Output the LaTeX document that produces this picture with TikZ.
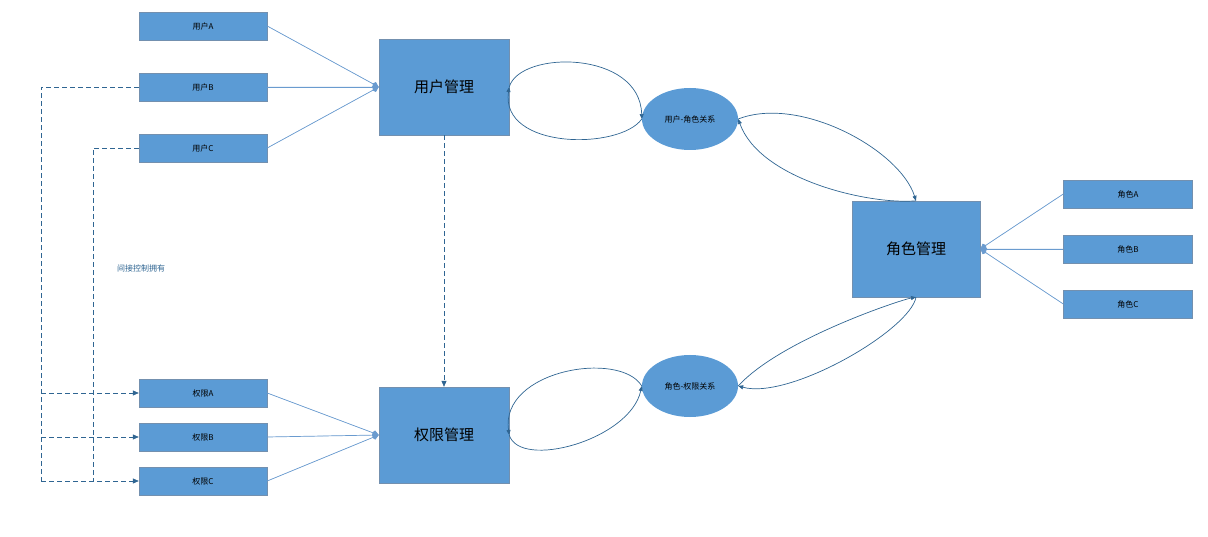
\documentclass[tikz,border=0pt]{standalone}
\usepackage{fontspec}
\newfontfamily\cjk{Noto Sans CJK SC}
\usetikzlibrary{arrows.meta,shapes.geometric}
\definecolor{bfill}{HTML}{5B9BD5}
\definecolor{bline}{HTML}{6A9BCF}
\definecolor{dline}{HTML}{2F6592}
\begin{document}
\begin{tikzpicture}[x=1pt,y=-1pt,
 sbox/.style={draw=bline!60!gray,fill=bfill,minimum width=128pt,minimum height=28pt,inner sep=0pt,font=\cjk\fontsize{8}{8}\selectfont},
 bbox/.style={draw=bline!60!gray,fill=bfill,minimum width=130pt,minimum height=96pt,inner sep=0pt,font=\cjk\fontsize{15}{15}\selectfont},
 ell/.style={ellipse,fill=bfill,minimum width=96pt,minimum height=62pt,inner sep=0pt,font=\cjk\fontsize{8}{8}\selectfont},
 thinline/.style={draw=bline,line width=0.7pt},
 curve/.style={draw=dline,line width=0.7pt,-{Triangle[length=5pt,width=4pt]}},
 dsh/.style={draw=dline,line width=0.7pt,dash pattern=on 5pt off 3pt},
 dtip/.style={-{Triangle[length=6pt,width=5pt]}},
 kite/.style={-{Kite[length=7pt,width=6pt,inset=2pt]}}]
\useasboundingbox (0,0) rectangle (1208,537);
\node[sbox] (ua) at (203,26) {用户A};
\node[sbox] (ub) at (203,87) {用户B};
\node[sbox] (uc) at (203,148) {用户C};
\node[bbox] (um) at (444,87) {用户管理};
\node[bbox] (pm) at (444,435) {权限管理};
\node[sbox] (pa) at (203,393) {权限A};
\node[sbox] (pb) at (203,437) {权限B};
\node[sbox] (pc) at (203,481) {权限C};
\node[ell] (ur) at (690,119) {用户-角色关系};
\node[ell] (rp) at (690,386) {角色-权限关系};
\node[bbox,minimum width=128pt] (rm) at (916,249) {角色管理};
\node[sbox,minimum width=129pt] (ra) at (1128,194) {角色A};
\node[sbox,minimum width=129pt] (rb) at (1128,249) {角色B};
\node[sbox,minimum width=129pt] (rc) at (1128,304) {角色C};
\node[text=dline,font=\cjk\fontsize{8}{8}\selectfont] (lbl) at (141,268) {间接控制拥有};
% fan-ins
\coordinate (umL) at (um.west);
\draw[thinline,kite,fill=bline] (ua.east) -- (umL);
\draw[thinline,kite,fill=bline] (ub.east) -- (umL);
\draw[thinline,kite,fill=bline] (uc.east) -- (umL);
\coordinate (pmL) at (pm.west);
\draw[thinline,kite,fill=bline] (pa.east) -- (pmL);
\draw[thinline,kite,fill=bline] (pb.east) -- (pmL);
\draw[thinline,kite,fill=bline] (pc.east) -- (pmL);
\coordinate (rmR) at (rm.east);
\draw[thinline,kite,fill=bline] (ra.west) -- (rmR);
\draw[thinline,kite,fill=bline] (rb.west) -- (rmR);
\draw[thinline,kite,fill=bline] (rc.west) -- (rmR);
% curves
\draw[curve] (um.east) .. controls (520,50) and (640,50) .. (ur.west);
\draw[curve] (ur.west) .. controls (620,150) and (500,150) .. (um.east);
\draw[curve] (ur.east) .. controls (800,95) and (900,150) .. (rm.north);
\draw[curve] (rm.north) .. controls (870,205) and (760,180) .. (ur.east);
\draw[curve] (rp.west) .. controls (620,350) and (500,370) .. (pm.east);
\draw[curve] (pm.east) .. controls (520,470) and (630,440) .. (rp.west);
\draw[curve] (rp.east) .. controls (780,340) and (900,300) .. (rm.south);
\draw[curve] (rm.south) .. controls (910,330) and (790,400) .. (rp.east);
% dashed
\draw[dsh,dtip] (um.south) -- (pm.north);
\draw[dsh] (ub.west) -- (41,87) -- (41,481);
\draw[dsh,dtip] (41,481) -- (pc.west);
\draw[dsh,dtip] (41,393) -- (pa.west);
\draw[dsh,dtip] (41,437) -- (pb.west);
\draw[dsh] (uc.west) -- (93,148) -- (93,481);
\end{tikzpicture}
\end{document}
